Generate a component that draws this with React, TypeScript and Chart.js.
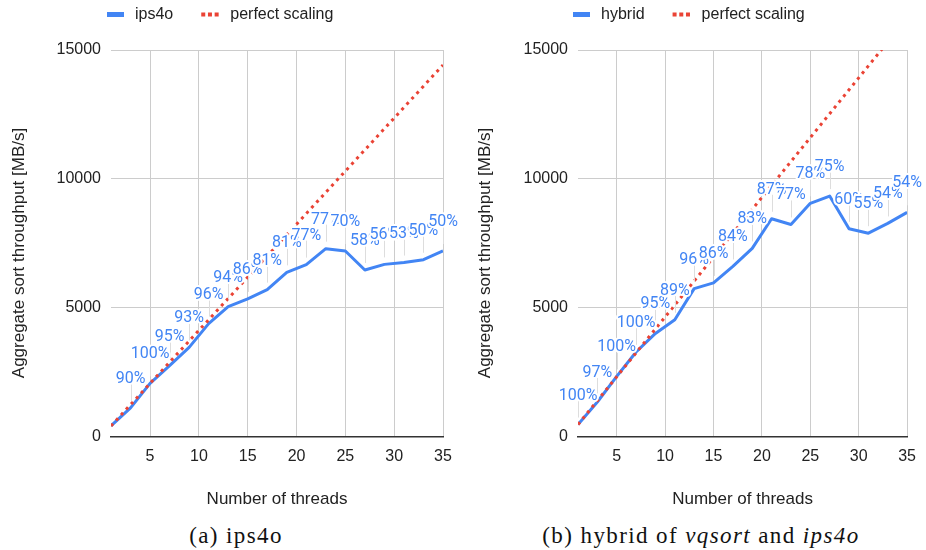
import React, { useEffect, useRef } from 'react';
import { Chart, registerables } from 'chart.js';

Chart.register(...registerables);

// thread counts sampled (odd numbers 1..35)
const threads = [1, 3, 5, 7, 9, 11, 13, 15, 17, 19, 21, 23, 25, 27, 29, 31, 33, 35];
const xTicks = [5, 10, 15, 20, 25, 30, 35];
const yTicks = [0, 5000, 10000, 15000];

// (a) ips4o
const ips4oThroughput = [412, 1110, 2060, 2750, 3460, 4380, 5040, 5340, 5700, 6370, 6670, 7290, 7200, 6460, 6680, 6750, 6860, 7200];
const ips4oPerfect = [412, 1236, 2060, 2884, 3708, 4532, 5356, 6180, 7004, 7828, 8652, 9476, 10300, 11124, 11948, 12772, 13596, 14420];
const ips4oLabels = ['', '90%', '100%', '95%', '93%', '96%', '94%', '86%', '81%', '81%', '77%', '77%', '70%', '58%', '56%', '53%', '50%', '50%'];

// (b) hybrid of vqsort and ips4o
const hybridThroughput = [464, 1340, 2330, 3280, 4000, 4530, 5740, 5960, 6600, 7300, 8450, 8230, 9050, 9330, 8060, 7890, 8270, 8700];
const hybridPerfect = [464, 1392, 2320, 3248, 4176, 5104, 6032, 6960, 7888, 8816, 9744, 10672, 11600, 12528, 13456, 14384, 15312, 16240];
const hybridLabels = ['100%', '97%', '100%', '100%', '95%', '89%', '96%', '86%', '84%', '83%', '87%', '77%', '78%', '75%', '60%', '55%', '54%', '54%'];

const BLUE = '#4285f4';
const RED = '#ea4335';
const TEXT = '#222222';
const AXIS_FONT = 'Arial, "Liberation Sans", sans-serif';
const Y_TITLE = 'Aggregate sort throughput [MB/s]';

interface PanelProps {
  name: string;
  values: number[];
  perfect: number[];
  labels: string[];
  yAxisWidth: number;
  padRight: number;
  yTitleX: number;
  legendX: number;
}

const Panel: React.FC<PanelProps> = ({ name, values, perfect, labels, yAxisWidth, padRight, yTitleX, legendX }) => {
  const canvasRef = useRef<HTMLCanvasElement | null>(null);
  const chartRef = useRef<Chart | null>(null);

  useEffect(() => {
    if (!canvasRef.current) return;
    const ctx = canvasRef.current.getContext('2d');
    if (!ctx) return;

    // percentage annotations with stems and a white halo
    const annotations = {
      id: 'annotations',
      afterDatasetsDraw(chart: any) {
        const meta = chart.getDatasetMeta(1);
        const c = chart.ctx;
        c.save();
        c.strokeStyle = '#dddddd';
        c.lineWidth = 1;
        meta.data.forEach((pt: any, i: number) => {
          if (!labels[i]) return;
          c.beginPath();
          c.moveTo(Math.round(pt.x) + 0.5, pt.y - 7);
          c.lineTo(Math.round(pt.x) + 0.5, pt.y - 24);
          c.stroke();
        });
        c.font = '16px Roboto, sans-serif';
        c.textAlign = 'center';
        c.textBaseline = 'alphabetic';
        c.lineJoin = 'round';
        meta.data.forEach((pt: any, i: number) => {
          if (!labels[i]) return;
          const y = pt.y - 25;
          c.strokeStyle = '#ffffff';
          c.lineWidth = 4;
          c.strokeText(labels[i], pt.x, y);
          c.fillStyle = BLUE;
          c.fillText(labels[i], pt.x, y);
        });
        c.restore();
      },
    };

    // legend and y title drawn by hand
    const legend = {
      id: 'customLegend',
      afterDraw(chart: any) {
        const c = chart.ctx;
        c.save();
        c.font = `16px ${AXIS_FONT}`;
        c.textBaseline = 'middle';
        c.textAlign = 'left';
        const cy = 14.5;
        let x = legendX;
        c.fillStyle = BLUE;
        c.fillRect(x, cy - 2.5, 17, 5);
        x += 28;
        c.fillStyle = TEXT;
        c.fillText(name, x, cy);
        x += c.measureText(name).width + 28;
        c.fillStyle = RED;
        for (let k = 0; k < 3; k++) c.fillRect(x + k * 6.7, cy - 2, 4, 4);
        x += 29;
        c.fillStyle = TEXT;
        c.fillText('perfect scaling', x, cy);

        c.translate(yTitleX, 253);
        c.rotate(-Math.PI / 2);
        c.font = `17px ${AXIS_FONT}`;
        c.textAlign = 'center';
        c.fillText(Y_TITLE, 0, 0);
        c.restore();
      },
    };

    if (chartRef.current) {
      chartRef.current.destroy();
      chartRef.current = null;
    }

    chartRef.current = new Chart(ctx, {
      type: 'line',
      data: {
        labels: threads,
        datasets: [
          {
            label: 'perfect scaling',
            data: threads.map((t, i) => ({ x: t, y: perfect[i] })),
            borderColor: RED,
            borderWidth: 3,
            borderDash: [3, 4.4],
            borderCapStyle: 'butt',
            pointRadius: 0,
            order: 0,
          },
          {
            label: name,
            data: threads.map((t, i) => ({ x: t, y: values[i] })),
            borderColor: BLUE,
            borderWidth: 3,
            borderJoinStyle: 'round',
            pointRadius: 0,
            order: 1,
          },
        ],
      },
      options: {
        animation: false,
        responsive: false,
        maintainAspectRatio: false,
        layout: { padding: { top: 50, right: padRight, left: 0, bottom: 0 } },
        plugins: {
          legend: { display: false },
          tooltip: { enabled: false },
        },
        scales: {
          x: {
            type: 'linear',
            min: 1,
            max: 35,
            afterBuildTicks: (s: any) => {
              s.ticks = xTicks.map((v) => ({ value: v }));
            },
            afterFit: (s: any) => {
              s.height = 78.5;
            },
            ticks: {
              autoSkip: false,
              maxRotation: 0,
              padding: 10,
              color: TEXT,
              font: { family: AXIS_FONT, size: 16 },
              callback: (v: any) => String(v),
            },
            grid: { color: '#cccccc', lineWidth: 1, drawTicks: false },
            border: { display: true, color: '#333333', width: 1.5 },
            title: {
              display: true,
              text: 'Number of threads',
              color: TEXT,
              font: { family: AXIS_FONT, size: 17 },
              padding: { top: 0, bottom: 5 },
            },
          },
          y: {
            min: 0,
            max: 15000,
            afterBuildTicks: (s: any) => {
              s.ticks = yTicks.map((v) => ({ value: v }));
            },
            afterFit: (s: any) => {
              s.width = yAxisWidth;
            },
            ticks: {
              padding: 10,
              color: TEXT,
              font: { family: AXIS_FONT, size: 16 },
              callback: (v: any) => String(v),
            },
            grid: { color: '#cccccc', lineWidth: 1, drawTicks: false },
            border: { display: false },
          },
        },
      },
      plugins: [annotations, legend],
    } as any);

    return () => {
      if (chartRef.current) {
        chartRef.current.destroy();
        chartRef.current = null;
      }
    };
  }, [name, values, perfect, labels, yAxisWidth, padRight, yTitleX, legendX]);

  return <canvas ref={canvasRef} width={463} height={515} style={{ display: 'block', width: 463, height: 515 }} />;
};

const captionStyle: React.CSSProperties = {
  position: 'absolute',
  top: 523,
  fontFamily: '"Liberation Serif", "Times New Roman", serif',
  fontSize: 23,
  letterSpacing: 1.4,
  color: '#111',
  textAlign: 'center',
  whiteSpace: 'nowrap',
};

const App: React.FC = () => {
  return (
    <div style={{ position: 'absolute', left: 0, top: 0, width: 926, height: 550, background: '#fff' }}>
      <div style={{ position: 'absolute', left: 0, top: 0 }}>
        <Panel
          name="ips4o"
          values={ips4oThroughput}
          perfect={ips4oPerfect}
          labels={ips4oLabels}
          yAxisWidth={111}
          padRight={20}
          yTitleX={19}
          legendX={107}
        />
      </div>
      <div style={{ position: 'absolute', left: 463, top: 0 }}>
        <Panel
          name="hybrid"
          values={hybridThroughput}
          perfect={hybridPerfect}
          labels={hybridLabels}
          yAxisWidth={115}
          padRight={15}
          yTitleX={22.5}
          legendX={110}
        />
      </div>
      <div style={{ ...captionStyle, left: 0, width: 472 }}>(a) ips4o</div>
      <div style={{ ...captionStyle, left: 463, width: 476 }}>
        (b) hybrid of <i>vqsort</i> and <i>ips4o</i>
      </div>
    </div>
  );
};

export default App;
